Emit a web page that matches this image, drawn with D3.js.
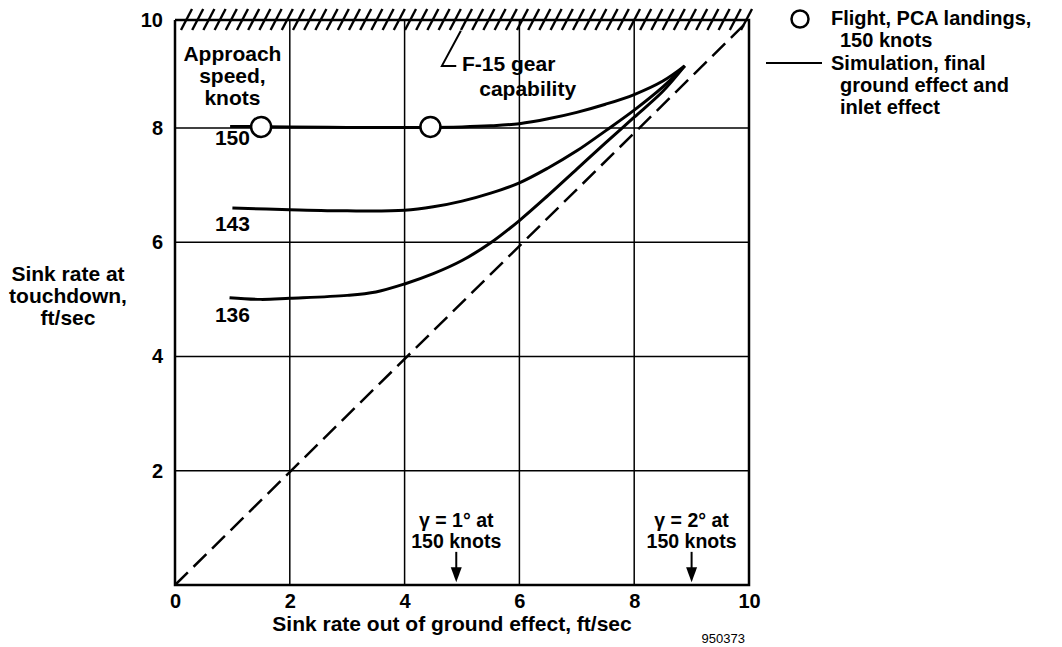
<!DOCTYPE html>
<html><head><meta charset="utf-8">
<script src="https://cdn.jsdelivr.net/npm/d3@7"></script>
<style>
html,body{margin:0;padding:0;background:#fff;}
svg text{font-family:"Liberation Sans",Arial,Helvetica,sans-serif;font-weight:bold;fill:#000;}
</style></head>
<body>
<svg id="chart" width="1062" height="647"></svg>
<script>
// ---- data ----
const xTicks = [0, 2, 4, 6, 8, 10];
const yTicks = [2, 4, 6, 8, 10];
const speedLabels = ["150", "143", "136"];
const sim150 = [[0.96,8.03],[2,8.02],[3,8.01],[4,8.01],[5,8.02],[5.5,8.04],[6,8.08],[6.5,8.17],[7,8.29],[7.5,8.44],[8,8.62],[8.5,8.87],[8.88,9.15]];
const sim143 = [[1.0,6.6],[2,6.57],[3,6.55],[4,6.56],[4.5,6.62],[5,6.72],[5.5,6.86],[6,7.04],[6.5,7.3],[7,7.6],[7.5,7.95],[8,8.33],[8.5,8.76],[8.88,9.15]];
const sim136 = [[0.95,5.03],[1.5,5.0],[2,5.02],[3,5.07],[3.5,5.13],[4,5.27],[4.5,5.45],[5,5.68],[5.5,5.99],[6,6.38],[6.5,6.82],[7,7.28],[7.5,7.74],[8,8.2],[8.5,8.68],[8.88,9.15]];
const flightX = [1.5, 4.45];
const flightY = [8.02, 8.02];
const labelPos = [[1.0, 7.7], [1.0, 6.2], [1.0, 4.6]];
const gammaX = [4.9, 9.0];
const gammaText = [["γ = 1° at", "150 knots"], ["γ = 2° at", "150 knots"]];
const oneToOne = [[0,0],[10,10]];
const legendFlight = ["Flight, PCA landings,", "150 knots"];
const legendSim = ["Simulation, final", "ground effect and", "inlet effect"];

// ---- scales ----
const svg = d3.select("#chart");
const x = d3.scaleLinear().domain([0, 10]).range([175, 749]);
const y = d3.scaleLinear().domain([0, 8, 10]).range([585, 128, 20]);
const FS = 21;

// grid
const g = svg.append("g");
g.selectAll(".vg").data(xTicks.slice(1, -1)).join("line")
  .attr("x1", d => x(d)).attr("x2", d => x(d))
  .attr("y1", y(0)).attr("y2", y(10))
  .attr("stroke", "#000").attr("stroke-width", 1.5);
g.selectAll(".hg").data(yTicks.slice(0, -1)).join("line")
  .attr("x1", x(0)).attr("x2", x(10))
  .attr("y1", d => y(d)).attr("y2", d => y(d))
  .attr("stroke", "#000").attr("stroke-width", 1.5);

// frame
g.append("path")
  .attr("d", `M${x(0)},${y(10)}V${y(0)}H${x(10)}V${y(10)}H${x(0)}`)
  .attr("fill", "none").attr("stroke", "#000").attr("stroke-width", 2.5);

// hatch along top (gear capability)
const hatch = d3.range(x(0) + 6, x(10) + 2, 11.2);
g.selectAll(".hatch").data(hatch).join("line")
  .attr("x1", d => d).attr("y1", y(10) + 10)
  .attr("x2", d => d + 11).attr("y2", y(10) - 11)
  .attr("stroke", "#000").attr("stroke-width", 2.4);

// dashed 1:1 line
const line = d3.line().x(d => x(d[0])).y(d => y(d[1]));
g.append("path").attr("d", line(oneToOne))
  .attr("fill", "none").attr("stroke", "#000").attr("stroke-width", 2.5)
  .attr("stroke-dasharray", "18,8");

// simulation curves
const curve = d3.line().x(d => x(d[0])).y(d => y(d[1])).curve(d3.curveCatmullRom.alpha(0.5));
[sim150, sim143, sim136].forEach(s => {
  g.append("path").attr("d", curve(s))
    .attr("fill", "none").attr("stroke", "#000").attr("stroke-width", 3);
});

// flight points
g.selectAll(".pt").data(flightX).join("circle")
  .attr("cx", d => x(d)).attr("cy", (d, i) => y(flightY[i])).attr("r", 10)
  .attr("fill", "#fff").attr("stroke", "#000").attr("stroke-width", 2.5);

// speed labels
g.selectAll(".sl").data(speedLabels).join("text")
  .attr("x", (d, i) => x(labelPos[i][0])).attr("y", (d, i) => y(labelPos[i][1]))
  .attr("text-anchor", "middle").attr("font-size", FS).text(d => d);

// Approach speed label
const ap = g.append("text").attr("text-anchor", "middle").attr("font-size", FS);
["Approach", "speed,", "knots"].forEach((t, i) => {
  ap.append("tspan").attr("x", x(1.0)).attr("y", y(9.25) + i * 22).text(t);
});

// F-15 gear capability
g.append("path")
  .attr("d", line([[4.98, 9.8], [4.65, 9.15], [4.9, 9.15]]))
  .attr("fill", "none").attr("stroke", "#000").attr("stroke-width", 2);
g.append("text").attr("x", x(5.0)).attr("y", y(9.05)).attr("font-size", FS).text("F-15 gear");
g.append("text").attr("x", x(5.3)).attr("y", y(8.6)).attr("font-size", FS).text("capability");

// gamma arrows
gammaX.forEach((gx, i) => {
  const px = x(gx);
  g.append("line").attr("x1", px).attr("x2", px).attr("y1", y(0.58)).attr("y2", y(0.2))
    .attr("stroke", "#000").attr("stroke-width", 2);
  g.append("path")
    .attr("d", `M${px - 5.5},${y(0.31)}L${px + 5.5},${y(0.31)}L${px},${y(0.05)}Z`)
    .attr("fill", "#000");
  const t = g.append("text").attr("text-anchor", "middle").attr("font-size", 19.5);
  gammaText[i].forEach((s, j) => {
    t.append("tspan").attr("x", px).attr("y", y(1.02) + j * 21).text(s);
  });
});

// axes tick labels
const xa = svg.append("g").attr("transform", `translate(0,${y(0)})`)
  .call(d3.axisBottom(x).tickValues(xTicks).tickSize(0).tickPadding(8).tickFormat(d3.format("d")));
xa.select(".domain").remove();
xa.selectAll("text").attr("font-size", 20).attr("font-family", null).attr("fill", "#000").attr("dy", "0.75em");
const ya = svg.append("g").attr("transform", `translate(${x(0)},0)`)
  .call(d3.axisLeft(y).tickValues(yTicks).tickSize(0).tickPadding(12).tickFormat(d3.format("d")));
ya.select(".domain").remove();
ya.selectAll("text").attr("font-size", 20).attr("font-family", null).attr("fill", "#000");
svg.selectAll(".tick line").remove();

// axis titles
svg.append("text").attr("x", x(5) - 10).attr("y", 631).attr("text-anchor", "middle")
  .attr("font-size", FS).text("Sink rate out of ground effect, ft/sec");
const yt = svg.append("text").attr("text-anchor", "middle").attr("font-size", FS);
["Sink rate at", "touchdown,", "ft/sec"].forEach((t, i) => {
  yt.append("tspan").attr("x", 68).attr("y", 281 + i * 22).text(t);
});
svg.append("text").attr("x", 745).attr("y", 643).attr("text-anchor", "end")
  .attr("font-size", 13).style("font-weight", "normal").text("950373");

// legend
const LFS = 20;
const lg = svg.append("g");
lg.append("circle").attr("cx", 800).attr("cy", 19).attr("r", 8.5)
  .attr("fill", "#fff").attr("stroke", "#000").attr("stroke-width", 2.5);
legendFlight.forEach((t, i) => {
  lg.append("text").attr("x", i ? 840 : 831).attr("y", 25 + i * 22).attr("font-size", LFS).text(t);
});
lg.append("line").attr("x1", 766).attr("x2", 822).attr("y1", 63).attr("y2", 63)
  .attr("stroke", "#000").attr("stroke-width", 2);
legendSim.forEach((t, i) => {
  lg.append("text").attr("x", i ? 840 : 831).attr("y", 70 + i * 22).attr("font-size", LFS).text(t);
});
</script>
</body></html>
